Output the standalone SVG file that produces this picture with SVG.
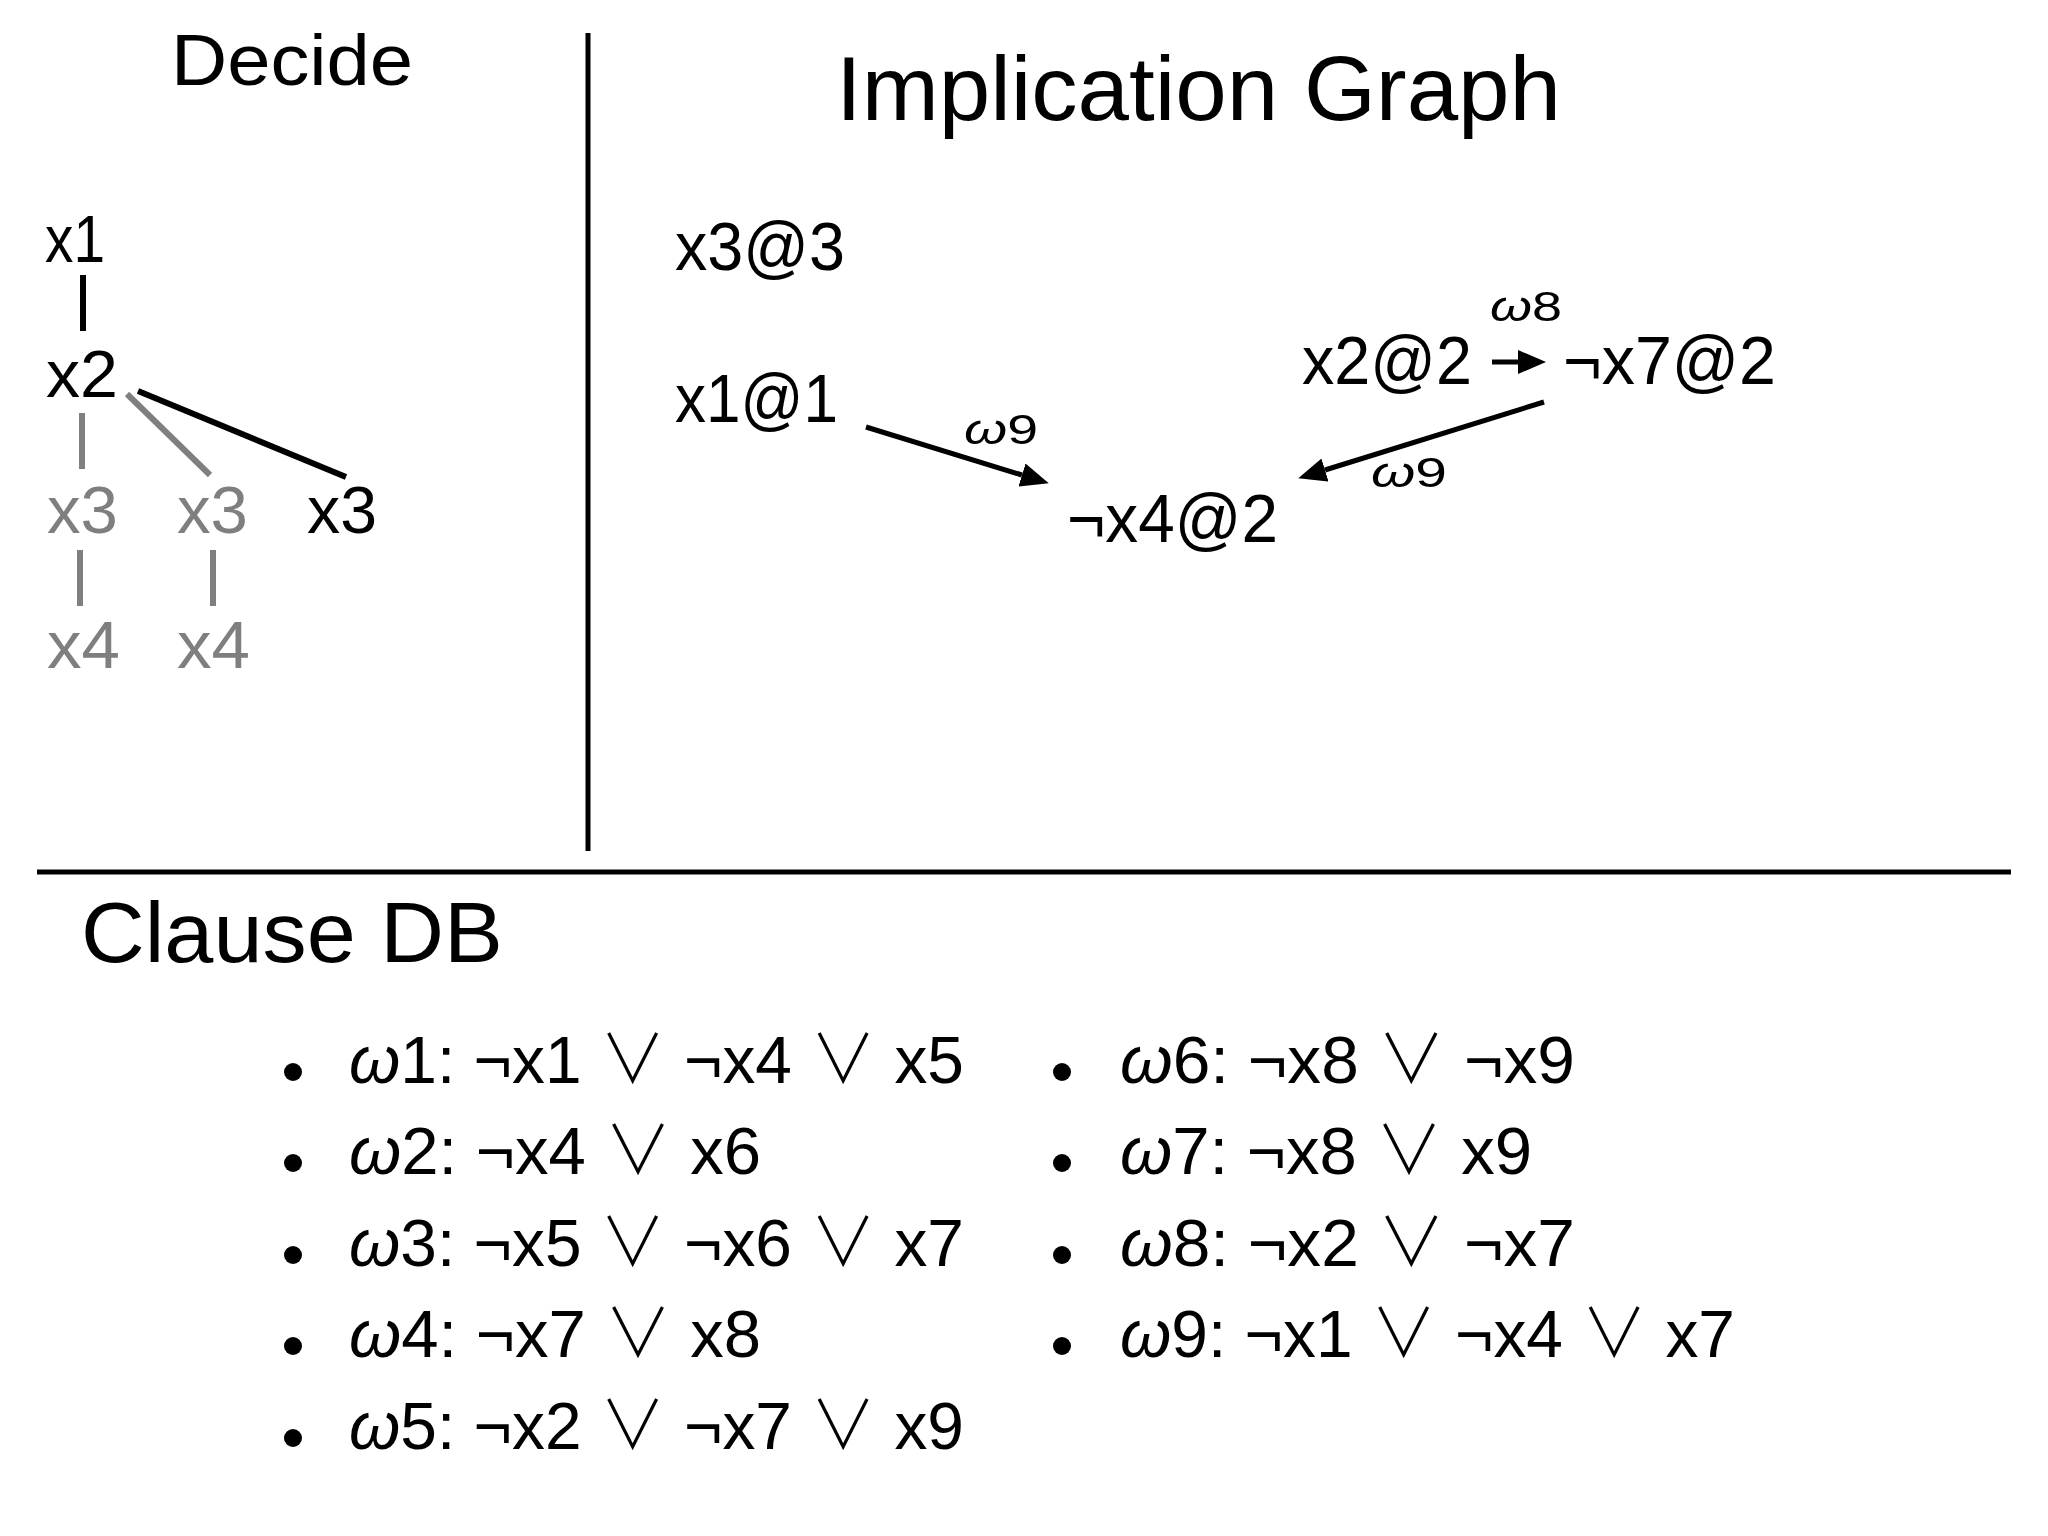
<svg xmlns="http://www.w3.org/2000/svg" width="2048" height="1536" viewBox="0 0 2048 1536">
<style>
text{font-family:"Liberation Sans","DejaVu Sans",sans-serif;fill:#000}
.title{font-size:90px}
.tree{font-size:67px}
.gray{fill:#7f7f7f}
.node{font-size:68px}
.lbl{font-size:43px}
.clause{font-size:67px}
.w{font-style:italic}
.or{font-family:"Noto Sans CJK JP","DejaVu Sans",sans-serif;font-weight:300}
.edge{stroke:#000;stroke-width:6;fill:none}
.gedge{stroke:#7f7f7f;stroke-width:6;fill:none}
.div{stroke:#000;stroke-width:5}
.arrow{stroke:#000;stroke-width:5;fill:none;marker-end:url(#ah)}
</style>
<defs>
<marker id="ah" markerUnits="userSpaceOnUse" markerWidth="28" markerHeight="24" refX="0" refY="12" orient="auto" viewBox="0 0 28 24">
<path d="M0,0 L28,12 L0,24 z" fill="#000"/>
</marker>
</defs>
<rect width="2048" height="1536" fill="#fff"/>

<g id="dividers">
<line class="div" x1="588" y1="33" x2="588" y2="851"/>
<line class="div" x1="37" y1="872" x2="2011" y2="872"/>
</g>

<g id="decide-title"><text x="171" y="85" style="font-size:73px" textLength="242" lengthAdjust="spacingAndGlyphs">Decide</text></g>

<g id="tree-edges">
<line class="edge" x1="83" y1="275" x2="83" y2="331"/>
<line class="gedge" x1="82" y1="413" x2="82" y2="469"/>
<line class="gedge" x1="127" y1="394" x2="210" y2="475"/>
<line class="edge" x1="138" y1="391" x2="346" y2="477"/>
<line class="gedge" x1="80" y1="550" x2="80" y2="606"/>
<line class="gedge" x1="213" y1="550" x2="213" y2="606"/>
</g>
<g id="t-x1"><text class="tree" x="45" y="262" textLength="60" lengthAdjust="spacingAndGlyphs">x1</text></g>
<g id="t-x2"><text class="tree" x="46" y="397" textLength="72" lengthAdjust="spacingAndGlyphs">x2</text></g>
<g id="t-x3a"><text class="tree gray" x="47" y="533" textLength="71" lengthAdjust="spacingAndGlyphs">x3</text></g>
<g id="t-x3b"><text class="tree gray" x="177" y="533" textLength="71" lengthAdjust="spacingAndGlyphs">x3</text></g>
<g id="t-x3c"><text class="tree" x="307" y="533" textLength="70" lengthAdjust="spacingAndGlyphs">x3</text></g>
<g id="t-x4a"><text class="tree gray" x="47" y="668" textLength="73" lengthAdjust="spacingAndGlyphs">x4</text></g>
<g id="t-x4b"><text class="tree gray" x="177" y="668" textLength="73" lengthAdjust="spacingAndGlyphs">x4</text></g>

<g id="impl-title"><text class="title" x="836" y="120" textLength="725" lengthAdjust="spacingAndGlyphs">Implication Graph</text></g>

<g id="connectors">
<path class="arrow" d="M866,427 L1022,475"/>
<path class="arrow" d="M1544,402 L1325,470"/>
<path class="arrow" d="M1492,362 L1518,362"/>
<text class="lbl" x="964" y="444" textLength="74" lengthAdjust="spacingAndGlyphs"><tspan class="w">ω</tspan>9</text>
<text class="lbl" x="1371" y="487" textLength="76" lengthAdjust="spacingAndGlyphs"><tspan class="w">ω</tspan>9</text>
<text class="lbl" x="1490" y="321" textLength="72" lengthAdjust="spacingAndGlyphs"><tspan class="w">ω</tspan>8</text>
</g>

<g id="n-x3"><text class="node" x="675" y="270" textLength="170" lengthAdjust="spacingAndGlyphs">x3@3</text></g>
<g id="n-x1"><text class="node" x="675" y="422" textLength="163" lengthAdjust="spacingAndGlyphs">x1@1</text></g>
<g id="n-x2"><text class="node" x="1302" y="384" textLength="170" lengthAdjust="spacingAndGlyphs">x2@2</text></g>
<g id="n-x7"><text class="node" x="1563" y="384" textLength="213" lengthAdjust="spacingAndGlyphs">¬x7@2</text></g>
<g id="n-x4"><text class="node" x="1067" y="542" textLength="211" lengthAdjust="spacingAndGlyphs">¬x4@2</text></g>

<g id="clause-db">
<text x="81" y="962" style="font-size:86px" textLength="422" lengthAdjust="spacingAndGlyphs">Clause DB</text>
<g id="bullets">
<circle cx="293" cy="1072" r="9"/>
<circle cx="293" cy="1163" r="9"/>
<circle cx="293" cy="1255" r="9"/>
<circle cx="293" cy="1346" r="9"/>
<circle cx="293" cy="1438" r="9"/>
<circle cx="1062" cy="1072" r="9"/>
<circle cx="1062" cy="1163" r="9"/>
<circle cx="1062" cy="1255" r="9"/>
<circle cx="1062" cy="1346" r="9"/>
</g>
<text class="clause" x="349" y="1083" textLength="615" lengthAdjust="spacingAndGlyphs"><tspan class="w">ω</tspan>1: ¬x1 <tspan class="or">∨</tspan> ¬x4 <tspan class="or">∨</tspan> x5</text>
<text class="clause" x="349" y="1174" textLength="412" lengthAdjust="spacingAndGlyphs"><tspan class="w">ω</tspan>2: ¬x4 <tspan class="or">∨</tspan> x6</text>
<text class="clause" x="349" y="1266" textLength="615" lengthAdjust="spacingAndGlyphs"><tspan class="w">ω</tspan>3: ¬x5 <tspan class="or">∨</tspan> ¬x6 <tspan class="or">∨</tspan> x7</text>
<text class="clause" x="349" y="1357" textLength="412" lengthAdjust="spacingAndGlyphs"><tspan class="w">ω</tspan>4: ¬x7 <tspan class="or">∨</tspan> x8</text>
<text class="clause" x="349" y="1449" textLength="615" lengthAdjust="spacingAndGlyphs"><tspan class="w">ω</tspan>5: ¬x2 <tspan class="or">∨</tspan> ¬x7 <tspan class="or">∨</tspan> x9</text>
<text class="clause" x="1120" y="1083" textLength="455" lengthAdjust="spacingAndGlyphs"><tspan class="w">ω</tspan>6: ¬x8 <tspan class="or">∨</tspan> ¬x9</text>
<text class="clause" x="1120" y="1174" textLength="412" lengthAdjust="spacingAndGlyphs"><tspan class="w">ω</tspan>7: ¬x8 <tspan class="or">∨</tspan> x9</text>
<text class="clause" x="1120" y="1266" textLength="455" lengthAdjust="spacingAndGlyphs"><tspan class="w">ω</tspan>8: ¬x2 <tspan class="or">∨</tspan> ¬x7</text>
<text class="clause" x="1120" y="1357" textLength="615" lengthAdjust="spacingAndGlyphs"><tspan class="w">ω</tspan>9: ¬x1 <tspan class="or">∨</tspan> ¬x4 <tspan class="or">∨</tspan> x7</text>
</g>
</svg>
